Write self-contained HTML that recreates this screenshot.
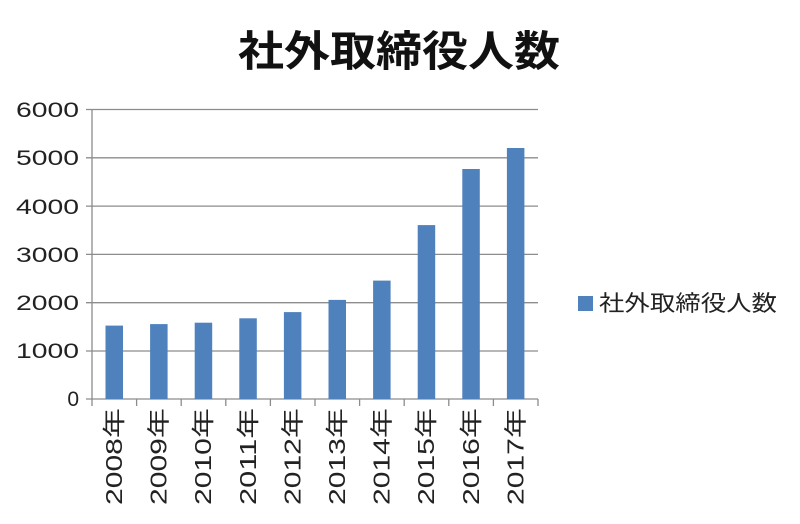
<!DOCTYPE html>
<html><head><meta charset="utf-8"><style>
body{margin:0;background:#fff;}
svg{display:block;}
</style></head><body>
<svg width="800" height="524" viewBox="0 0 800 524" xmlns="http://www.w3.org/2000/svg" font-family="Liberation Sans, Noto Sans CJK JP, sans-serif">
<rect width="800" height="524" fill="#fff"/>
<text x="238" y="66" font-size="42" font-weight="bold" textLength="322" lengthAdjust="spacingAndGlyphs" font-family="Noto Sans CJK JP, sans-serif" fill="#111">社外取締役人数</text>
<g stroke="#8c8c8c" stroke-width="1.3">
<line x1="86" y1="109.5" x2="538" y2="109.5"/>
<line x1="86" y1="157.8" x2="538" y2="157.8"/>
<line x1="86" y1="206.1" x2="538" y2="206.1"/>
<line x1="86" y1="254.4" x2="538" y2="254.4"/>
<line x1="86" y1="302.7" x2="538" y2="302.7"/>
<line x1="86" y1="351" x2="538" y2="351"/>
<line x1="86" y1="399" x2="538" y2="399"/>
<line x1="92" y1="109.5" x2="92" y2="406"/>
<line x1="136.6" y1="399" x2="136.6" y2="406"/>
<line x1="181.2" y1="399" x2="181.2" y2="406"/>
<line x1="225.8" y1="399" x2="225.8" y2="406"/>
<line x1="270.4" y1="399" x2="270.4" y2="406"/>
<line x1="315" y1="399" x2="315" y2="406"/>
<line x1="359.6" y1="399" x2="359.6" y2="406"/>
<line x1="404.2" y1="399" x2="404.2" y2="406"/>
<line x1="448.8" y1="399" x2="448.8" y2="406"/>
<line x1="493.4" y1="399" x2="493.4" y2="406"/>
<line x1="538" y1="399" x2="538" y2="406"/>
</g>
<g fill="#4f81bd">
<rect x="105.5" y="325.6" width="17.5" height="73.4"/>
<rect x="150.1" y="324.1" width="17.5" height="74.9"/>
<rect x="194.7" y="322.7" width="17.5" height="76.3"/>
<rect x="239.3" y="318.3" width="17.5" height="80.7"/>
<rect x="283.9" y="312.1" width="17.5" height="86.9"/>
<rect x="328.5" y="299.9" width="17.5" height="99.1"/>
<rect x="373.1" y="280.6" width="17.5" height="118.4"/>
<rect x="417.7" y="225.1" width="17.5" height="173.9"/>
<rect x="462.3" y="169" width="17.5" height="230"/>
<rect x="506.9" y="148" width="17.5" height="251"/>
</g>
<g font-size="21" fill="#222" text-anchor="end">
<text x="79" y="117" textLength="63" lengthAdjust="spacingAndGlyphs">6000</text>
<text x="79" y="165" textLength="63" lengthAdjust="spacingAndGlyphs">5000</text>
<text x="79" y="214" textLength="63" lengthAdjust="spacingAndGlyphs">4000</text>
<text x="79" y="262" textLength="63" lengthAdjust="spacingAndGlyphs">3000</text>
<text x="79" y="310" textLength="63" lengthAdjust="spacingAndGlyphs">2000</text>
<text x="79" y="358" textLength="63" lengthAdjust="spacingAndGlyphs">1000</text>
<text x="79" y="406">0</text>
</g>
<g font-size="23" fill="#222" text-anchor="end">
<text transform="translate(122,408) rotate(-90)" textLength="97" lengthAdjust="spacingAndGlyphs">2008年</text>
<text transform="translate(166.6,408) rotate(-90)" textLength="97" lengthAdjust="spacingAndGlyphs">2009年</text>
<text transform="translate(211.2,408) rotate(-90)" textLength="97" lengthAdjust="spacingAndGlyphs">2010年</text>
<text transform="translate(255.8,408) rotate(-90)" textLength="97" lengthAdjust="spacingAndGlyphs">2011年</text>
<text transform="translate(300.4,408) rotate(-90)" textLength="97" lengthAdjust="spacingAndGlyphs">2012年</text>
<text transform="translate(345,408) rotate(-90)" textLength="97" lengthAdjust="spacingAndGlyphs">2013年</text>
<text transform="translate(389.6,408) rotate(-90)" textLength="97" lengthAdjust="spacingAndGlyphs">2014年</text>
<text transform="translate(434.2,408) rotate(-90)" textLength="97" lengthAdjust="spacingAndGlyphs">2015年</text>
<text transform="translate(478.8,408) rotate(-90)" textLength="97" lengthAdjust="spacingAndGlyphs">2016年</text>
<text transform="translate(523.4,408) rotate(-90)" textLength="97" lengthAdjust="spacingAndGlyphs">2017年</text>
</g>
<rect x="578" y="296" width="15" height="15" fill="#4f81bd"/>
<text x="599" y="311" font-size="22" fill="#222" textLength="178" lengthAdjust="spacingAndGlyphs" font-family="Noto Sans CJK JP, sans-serif">社外取締役人数</text>
</svg>
</body></html>
